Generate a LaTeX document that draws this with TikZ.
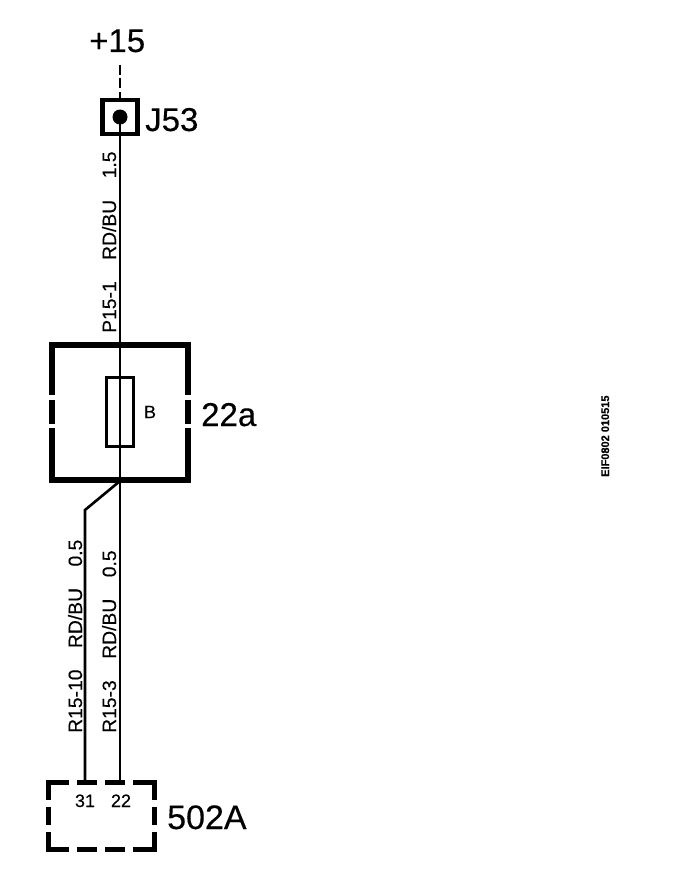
\documentclass[tikz,border=0pt]{standalone}
\usepackage{fontspec}
\setmainfont[FakeBold=0.25]{Liberation Sans}
\begin{document}
\begin{tikzpicture}[x=1pt,y=-1pt,
  wire/.style={line width=2.6pt,black},
  dashwire/.style={line width=2.8pt,black,dash pattern=on 10pt off 3.5pt},
  heavy/.style={line width=5.5pt,black},
  biglabel/.style={font=\fontsize{33}{33}\selectfont,inner sep=0pt,anchor=base west},
  wirelabel/.style={font=\fontsize{19.3}{19.3}\selectfont,inner sep=0pt,anchor=base west,rotate=90},
  pinlabel/.style={font=\fontsize{18}{18}\selectfont,inner sep=0pt,anchor=base},
  terminal/.style={draw,line width=4.2pt,minimum width=35pt,minimum height=34pt,inner sep=0pt},
  fusebox/.style={draw,line width=2.6pt,fill=white,minimum width=27pt,minimum height=69pt,inner sep=0pt},
  gap/.style={white,line width=8pt}]
\useasboundingbox (0,0) rectangle (672,888);
\coordinate (top) at (120,65);
\coordinate (pinA) at (85,782);
\coordinate (pinB) at (120,782);
\coordinate (bend) at (85,510);
\coordinate (split) at (120,481);
% relay/fuse box
\draw[heavy,line cap=butt] (52,395) -- (52,345) -- (188,345) -- (188,395);
\draw[heavy] (52,400) -- (52,424);
\draw[heavy] (188,400) -- (188,424);
\draw[heavy] (52,428) -- (52,480) -- (188,480) -- (188,428);
% terminal and fuse
\node[terminal] (J53) at (120,117) {};
\node[fusebox] (fuse) at (120,412) {};
% wires
\draw[dashwire] (top) -- (J53.north);
\draw[wire] (J53.center) -- (fuse.center) -- (split) -- (pinB);
\draw[wire] (split) -- (bend) -- (pinA);
\fill (J53.center) circle (7.5pt);
% connector 502A
\draw[heavy] (69,782.5) -- (48.5,782.5) -- (48.5,800);
\draw[heavy] (77,782.5) -- (97,782.5);
\draw[heavy] (105,782.5) -- (125,782.5);
\draw[heavy] (133,782.5) -- (154.5,782.5) -- (154.5,800);
\draw[heavy] (48.5,807) -- (48.5,825);
\draw[heavy] (154.5,807) -- (154.5,825);
\draw[heavy] (48.5,832) -- (48.5,849.5) -- (69,849.5);
\draw[heavy] (77,849.5) -- (97,849.5);
\draw[heavy] (105,849.5) -- (125,849.5);
\draw[heavy] (133,849.5) -- (154.5,849.5) -- (154.5,832);
% labels
\node[biglabel] (lplus) at (89,52) {+15};
\node[biglabel] (lJ) at (145,131) {J53};
\node[biglabel] (l22a) at (201,426) {22a};
\node[biglabel,font=\fontsize{34}{34}\selectfont] (l502) at (167,829) {502A};
\node[wirelabel] (w1) at (116,333) {P15-1\hspace{21.5pt}RD/BU\hspace{21.5pt}1.5};
\node[wirelabel] (w2) at (116,733) {R15-3\hspace{21.5pt}RD/BU\hspace{21.5pt}0.5};
\node[wirelabel] (w3) at (82,733) {R15-10\hspace{21.5pt}RD/BU\hspace{21.5pt}0.5};
\node[pinlabel] (p31) at (85,807) {31};
\node[pinlabel] (p22) at (121,807) {22};
\node[font=\fontsize{18}{18}\selectfont,inner sep=0pt] (lB) at (150,412) {B};
\node[font=\fontsize{11}{11}\selectfont\bfseries,inner sep=0pt,anchor=base west,rotate=90] (stamp) at (609,477) {EIF0802 010515};
\end{tikzpicture}
\end{document}
